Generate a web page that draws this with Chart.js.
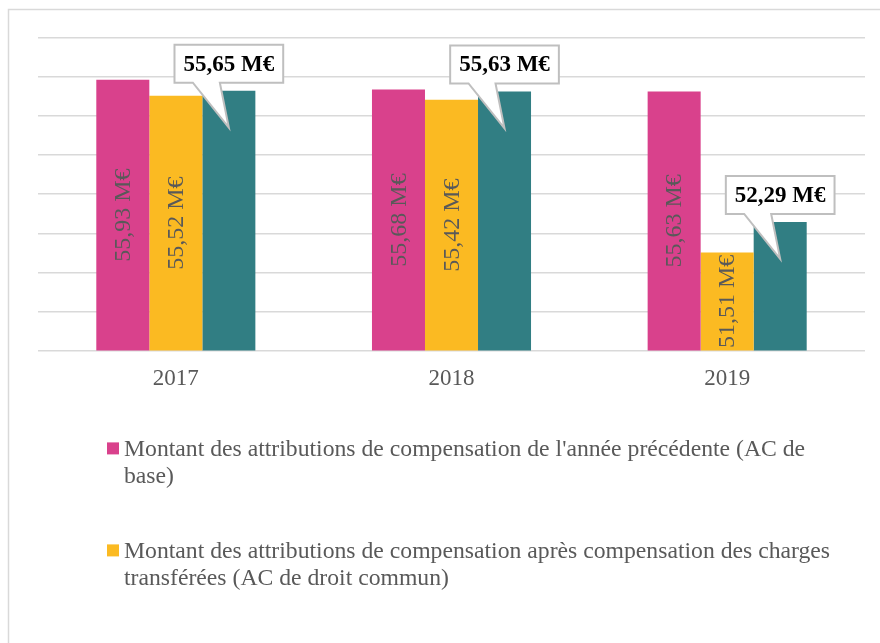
<!DOCTYPE html>
<html>
<head>
<meta charset="utf-8">
<script src="https://cdn.jsdelivr.net/npm/chart.js@4/dist/chart.umd.min.js"></script>
<style>
  html, body { margin: 0; padding: 0; background: #fff; }
  #wrap { position: relative; width: 880px; height: 643px; }
</style>
</head>
<body>
<div id="wrap"><canvas id="bar-chart"></canvas></div>
<script>
  "use strict";

  var annees = ['2017', '2018', '2019'];
  var acBase = [55.93, 55.68, 55.63];
  var acDroitCommun = [55.52, 55.42, 51.51];
  var acFinale = [55.65, 55.63, 52.29];
  var series = [
    "Montant des attributions de compensation de l'année précédente (AC de base)",
    "Montant des attributions de compensation après compensation des charges transférées (AC de droit commun)",
    "Montant des attributions de compensation"
  ];
  var couleurs = ['#d9418c', '#fbba22', '#317e83'];

  var police = '"Liberation Serif", "Times New Roman", serif';
  var gris = '#595959';

  var formatMontant = function (v) {
    return v.toFixed(2).replace('.', ',') + ' M€';
  };

  // cadre gris autour du graphique
  var cadre = {
    id: 'cadre',
    beforeDraw: function (chart) {
      var ctx = chart.ctx;
      ctx.save();
      ctx.strokeStyle = '#d9d9d9';
      ctx.lineWidth = 1.5;
      ctx.strokeRect(8.5, 9.5, 1000, 1000);
      ctx.restore();
    }
  };

  // étiquettes verticales dans les barres roses et jaunes + bulles
  var etiquettes = {
    id: 'etiquettes',
    afterDatasetsDraw: function (chart) {
      var ctx = chart.ctx, ca = chart.chartArea;
      var base = ca.bottom;
      ctx.save();
      ctx.beginPath();
      ctx.rect(ca.left, ca.top, ca.right - ca.left, ca.bottom - ca.top - 2);
      ctx.clip();
      ctx.font = '24px ' + police;
      ctx.fillStyle = gris;
      ctx.textAlign = 'center';
      ctx.textBaseline = 'middle';
      [0, 1].forEach(function (d) {
        chart.getDatasetMeta(d).data.forEach(function (bar, i) {
          var p = bar.getProps(['x', 'y'], true);
          var y = (p.y + base) / 2;
          ctx.save();
          ctx.translate(p.x, y);
          ctx.rotate(-Math.PI / 2);
          ctx.fillText(formatMontant(chart.data.datasets[d].data[i]), 0, 1);
          ctx.restore();
        });
      });
      ctx.restore();

      ctx.save();
      ctx.font = 'bold 23px ' + police;
      chart.getDatasetMeta(2).data.forEach(function (bar, i) {
        var p = bar.getProps(['x', 'y'], true);
        var txt = formatMontant(chart.data.datasets[2].data[i]);
        var w = ctx.measureText(txt).width + 18;
        var h = 38;
        var bas = p.y - 8, haut = bas - h;
        var g = p.x - w / 2, dr = p.x + w / 2;
        var pointeY = p.y + 37;
        ctx.beginPath();
        ctx.moveTo(g, haut);
        ctx.lineTo(dr, haut);
        ctx.lineTo(dr, bas);
        ctx.lineTo(p.x - 9, bas);
        ctx.lineTo(p.x, pointeY);
        ctx.lineTo(p.x - 36, bas);
        ctx.lineTo(g, bas);
        ctx.closePath();
        ctx.fillStyle = '#fff';
        ctx.fill();
        ctx.strokeStyle = '#bfbfbf';
        ctx.lineWidth = 2;
        ctx.stroke();
        ctx.fillStyle = '#000';
        ctx.textAlign = 'center';
        ctx.textBaseline = 'middle';
        ctx.fillText(txt, p.x, (haut + bas) / 2 + 1);
      });
      ctx.restore();
    }
  };

  // légende sur plusieurs lignes sous le graphique
  var legende = {
    id: 'legende',
    afterDraw: function (chart) {
      var ctx = chart.ctx, ca = chart.chartArea;
      var xTexte = 124, limite = 860, interligne = 27;
      var y = ca.bottom + 106;
      ctx.save();
      ctx.font = '23.7px ' + police;
      ctx.textBaseline = 'alphabetic';
      [0, 1].forEach(function (d) {
        var mots = chart.data.datasets[d].label.split(' ');
        var lignes = [], cur = '';
        mots.forEach(function (m) {
          var essai = cur ? cur + ' ' + m : m;
          if (ctx.measureText(essai).width > limite - xTexte && cur) {
            lignes.push(cur);
            cur = m;
          } else {
            cur = essai;
          }
        });
        lignes.push(cur);
        ctx.fillStyle = chart.data.datasets[d].backgroundColor;
        ctx.fillRect(107, y - 14, 12, 12);
        ctx.fillStyle = gris;
        lignes.forEach(function (l, k) {
          ctx.fillText(l, xTexte, y + k * interligne);
        });
        y += 102;
      });
      ctx.restore();
    }
  };

  new Chart(document.getElementById('bar-chart'), {
    type: 'bar',
    data: {
      labels: annees,
      datasets: [
        { label: series[0], data: acBase, backgroundColor: couleurs[0] },
        { label: series[1], data: acDroitCommun, backgroundColor: couleurs[1] },
        { label: series[2], data: acFinale, backgroundColor: couleurs[2] }
      ]
    },
    options: {
      responsive: true,
      maintainAspectRatio: false,
      animation: false,
      categoryPercentage: 0.577,
      barPercentage: 1,
      layout: { padding: { left: 38, right: 15, top: 38, bottom: 235 } },
      plugins: {
        legend: { display: false },
        tooltip: { enabled: false }
      },
      scales: {
        x: {
          grid: { display: false, drawTicks: false },
          border: { display: false },
          ticks: { color: gris, padding: 15, font: { family: police, size: 23 } }
        },
        y: {
          min: 49,
          max: 57,
          ticks: { display: false, stepSize: 1 },
          grid: { color: '#d9d9d9', lineWidth: 1.5, drawTicks: false },
          border: { display: false }
        }
      }
    },
    plugins: [cadre, etiquettes, legende]
  });
</script>
</body>
</html>
